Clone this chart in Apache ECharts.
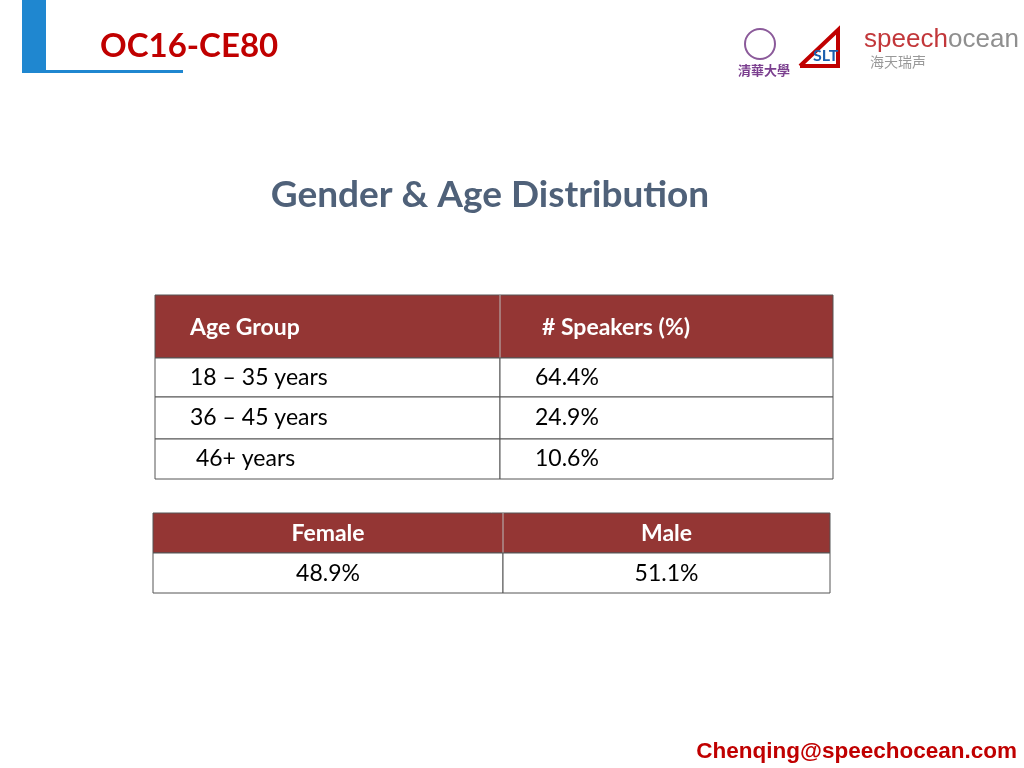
<!DOCTYPE html>
<html><head><meta charset="utf-8">
<script src="https://cdn.jsdelivr.net/npm/echarts@6/dist/echarts.min.js"></script>
<style>html,body{margin:0;padding:0;background:#fff}#c{width:1024px;height:768px}</style>
</head><body><div id="c"></div>
<script>
const ageHeader = ['Age Group', '# Speakers (%)'];
const ageGroups = ['18 – 35 years', '36 – 45 years', ' 46+ years'];
const agePercents = ['64.4%', '24.9%', '10.6%'];
const genderHeader = ['Female', 'Male'];
const genderPercents = ['48.9%', '51.1%'];

const chart = echarts.init(document.getElementById('c'));
const F = 'Lato, "Open Sans", sans-serif';
const red = '#943634', g = [];
function rect(x,y,w,h,fill,stroke){g.push({type:'rect',shape:{x,y,width:w,height:h},style:{fill:fill||'#fff',stroke:stroke||'#555',lineWidth:1}});}
function txt(x,y,t,o){g.push({type:'text',x,y,style:Object.assign({text:t,font:'23px '+F,fill:'#000',textVerticalAlign:'middle'},o||{})});}
g.push({type:'rect',shape:{x:22,y:0,width:24,height:72},style:{fill:'#1f87d0'}});
g.push({type:'rect',shape:{x:22,y:70,width:161,height:3},style:{fill:'#1f87d0'}});
txt(100,46,'OC16-CE80',{font:'bold 33px '+F,fill:'#c00000'});
g.push({type:'circle',shape:{cx:760,cy:44,r:15},style:{fill:'#fff',stroke:'#8b5a9a',lineWidth:2}});
txt(738,70,'清華大學',{font:'bold 13px "Noto Sans CJK TC"',fill:'#7b3f8f'});
g.push({type:'polyline',shape:{points:[[800,66],[838,30],[838,66],[800,66]]},style:{stroke:'#c00000',fill:null,lineWidth:4}});
txt(813,56,'SLT',{font:'bold 16px '+F,fill:'#1b5fae'});
txt(864,40,'speech',{font:'26px "Liberation Sans Narrow", "Liberation Sans"',fill:'#c2373a'});
txt(948,40,'ocean',{font:'26px "Liberation Sans Narrow", "Liberation Sans"',fill:'#8f8f8f'});
txt(870,62,'海天瑞声',{font:'14px "Noto Sans CJK SC"',fill:'#999'});
txt(490,195,'Gender & Age Distribution',{font:'bold 37px '+F,fill:'#4f6179',textAlign:'center'});
const ax=[155,500,833], ay=[295,358,397,439,479];
rect(ax[0],ay[0],ax[2]-ax[0],ay[1]-ay[0],red,'#555');
g.push({type:'line',shape:{x1:ax[1],y1:ay[0],x2:ax[1],y2:ay[1]},style:{stroke:'#bbb'}});
txt(190,328,ageHeader[0],{font:'bold 23px '+F,fill:'#fff'});
txt(542,328,ageHeader[1],{font:'bold 23px '+F,fill:'#fff'});
ageGroups.forEach((a,i)=>{
  rect(ax[0],ay[i+1],ax[1]-ax[0],ay[i+2]-ay[i+1]); rect(ax[1],ay[i+1],ax[2]-ax[1],ay[i+2]-ay[i+1]);
  const cy=(ay[i+1]+ay[i+2])/2;
  txt(190,cy,a); txt(535,cy,agePercents[i]);
});
const gx=[153,503,830], gy=[513,553,593];
rect(gx[0],gy[0],gx[2]-gx[0],gy[1]-gy[0],red,'#555');
g.push({type:'line',shape:{x1:gx[1],y1:gy[0],x2:gx[1],y2:gy[1]},style:{stroke:'#bbb'}});
genderHeader.forEach((h,i)=>{
  const cx=(gx[i]+gx[i+1])/2;
  txt(cx,534,h,{font:'bold 23px '+F,fill:'#fff',textAlign:'center'});
  rect(gx[i],gy[1],gx[i+1]-gx[i],gy[2]-gy[1]);
  txt(cx,574,genderPercents[i],{textAlign:'center'});
});
txt(1017,752,'Chenqing@speechocean.com',{font:'bold 22.5px "Liberation Sans", Arial',fill:'#c00000',textAlign:'right'});
chart.setOption({animation:false,graphic:{elements:g}});
</script></body></html>
